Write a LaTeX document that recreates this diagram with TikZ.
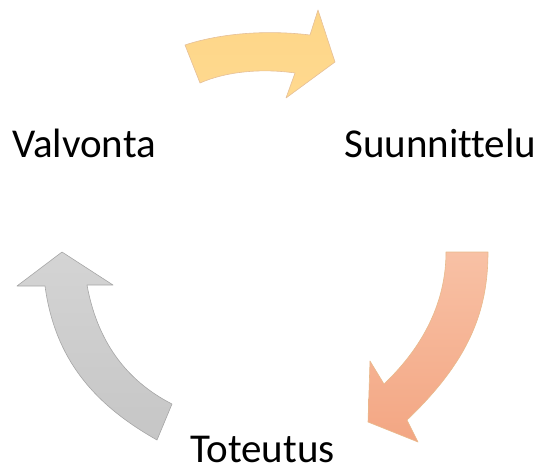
\documentclass[tikz,border=0pt]{standalone}
\usepackage{fontspec}
\setmainfont[Ligatures={NoCommon,NoDiscretionary,NoContextual},RawFeature={-liga;-clig;-dlig}]{Carlito}
\begin{document}
\begin{tikzpicture}[x=1pt,y=-1pt,
  arrowshape/.style={draw=#1, line width=0.6pt, line join=round},
  lbl/.style={inner sep=0pt, anchor=base west, font=\fontsize{41}{49}\selectfont, text=black}]
\useasboundingbox (0,0) rectangle (544,471);
% top arrow (Valvonta -> Suunnittelu)
\path[arrowshape={black!25!orange!40}, top color={rgb,255:red,253;green,214;blue,136}, bottom color={rgb,255:red,255;green,217;blue,143}]
  (185,45) .. controls (215,35) and (260,29) .. (310,35)
  -- (318,10) -- (335,62) -- (286,98) -- (295,73)
  .. controls (260,68) and (225,72) .. (200,83) -- cycle;
% right arrow (Suunnittelu -> Toteutus)
\path[arrowshape={black!20!orange!45}, top color={rgb,255:red,248;green,193;blue,165}, bottom color={rgb,255:red,243;green,166;blue,131}]
  (446,252) -- (488,252)
  .. controls (488,310) and (470,360) .. (407,420)
  -- (418,442) -- (368,422) -- (370,361) -- (384,384)
  .. controls (425,345) and (446,300) .. cycle;
% left arrow (Toteutus -> Valvonta)
\path[arrowshape={black!35}, top color={rgb,255:red,212;green,212;blue,212}, bottom color={rgb,255:red,198;green,198;blue,198}]
  (157,440) .. controls (95,405) and (55,360) .. (45,286)
  -- (17,286) -- (62,252) -- (113,285) -- (87,285)
  .. controls (97,340) and (125,380) .. (172,404) -- cycle;
\node[lbl] (valvonta) at (12,157) {Valvonta};
\node[lbl] (suunnittelu) at (344,157) {Suunnittelu};
\node[lbl] (toteutus) at (190,462) {Toteutus};
\end{tikzpicture}
\end{document}
